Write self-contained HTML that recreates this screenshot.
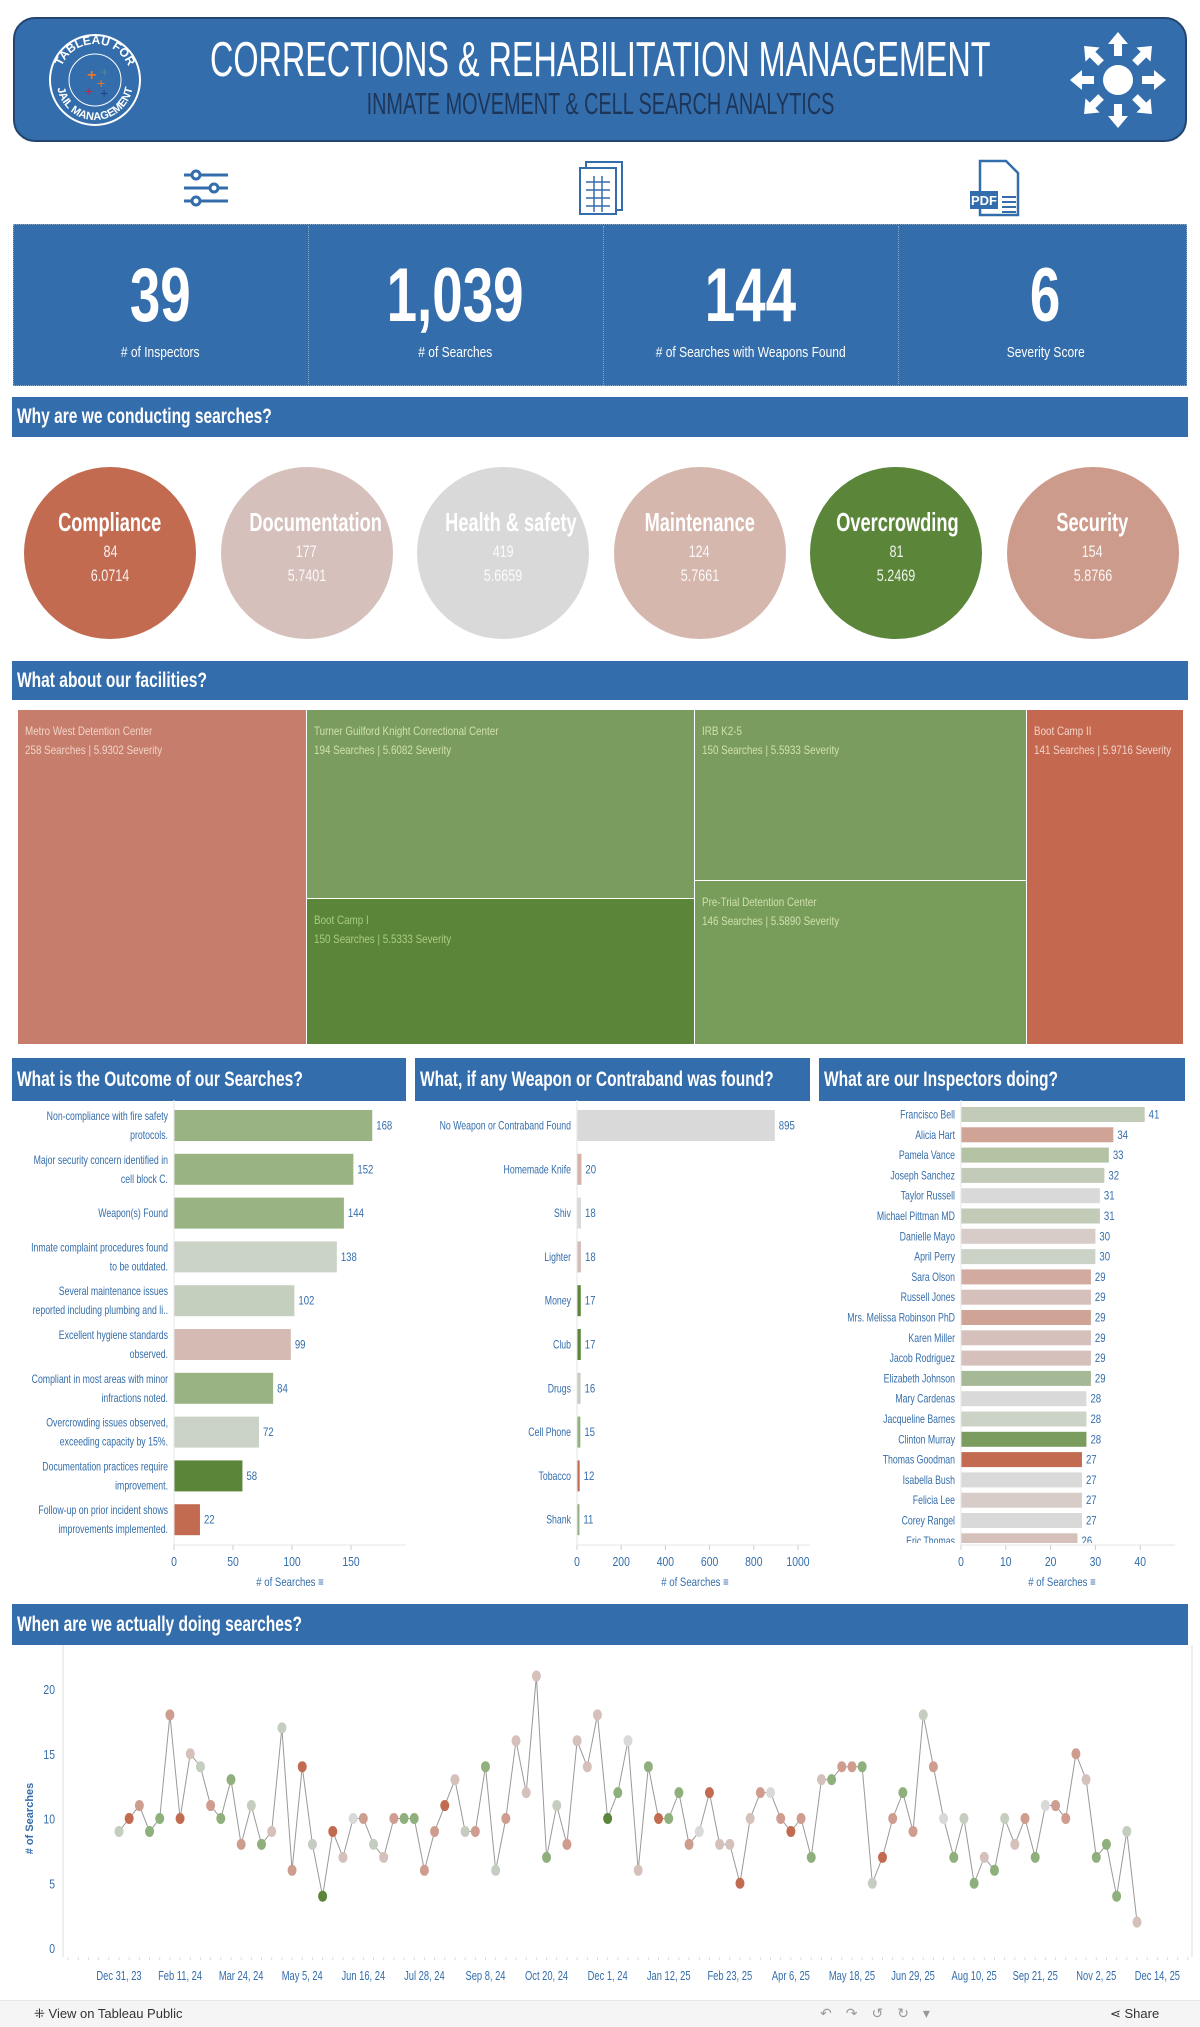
<!DOCTYPE html>
<html><head><meta charset="utf-8">
<style>
*{box-sizing:border-box;margin:0;padding:0}
body{width:1200px;height:2027px;position:relative;background:#fff;font-family:"Liberation Sans Narrow","Liberation Sans",sans-serif;overflow:hidden}
.abs{position:absolute}
.sec{position:absolute;background:#346dab;color:#fff;font-weight:bold;font-size:21px;padding-left:5px;display:flex;align-items:center;white-space:nowrap;overflow:hidden}
.sec span{display:inline-block;transform:scaleX(0.74);transform-origin:left center}
.nar{display:inline-block;transform:scaleX(0.74);white-space:nowrap}
.circ{position:absolute;width:172px;height:172px;border-radius:50%;top:467px;text-align:center;color:#fff;white-space:nowrap}
.circ .t{font-size:26px;font-weight:bold;margin-top:40px}
.circ .v{font-size:17px;margin-top:4px;opacity:.9}
.tm{position:absolute;font-size:12px;padding:12px 0 0 7px;line-height:19px;border:1px solid #fff;white-space:nowrap;overflow:hidden}
.tm span{display:inline-block;transform:scaleX(0.82);transform-origin:left center}
svg text{font-family:"Liberation Sans Narrow","Liberation Sans",sans-serif}
</style></head><body>

<div class="abs" style="left:13px;top:17px;width:1174px;height:125px;background:#346dab;border:2px solid #22446e;border-radius:22px"></div>
<svg class="abs" style="left:45px;top:30px" width="100" height="100">
<circle cx="50" cy="50" r="45" fill="none" stroke="#fff" stroke-width="2"/><circle cx="50" cy="50" r="26" fill="none" stroke="#fff" stroke-width="1"/>
<path id="arcT" d="M14 50 A36 36 0 0 1 86 50" fill="none"/><path id="arcB" d="M12 52 A38 38 0 0 0 88 52" fill="none"/>
<text fill="#fff" font-size="12" font-weight="bold"><textPath href="#arcT" startOffset="50%" text-anchor="middle">TABLEAU FOR</textPath></text>
<text fill="#fff" font-size="11" font-weight="bold"><textPath href="#arcB" startOffset="50%" text-anchor="middle">JAIL MANAGEMENT</textPath></text>
<text x="42" y="50" fill="#e8762d" font-size="16" font-weight="bold">+</text><text x="52" y="58" fill="#e8762d" font-size="14">+</text><text x="40" y="66" fill="#c72035" font-size="14">+</text><text x="55" y="68" fill="#1f457e" font-size="14">+</text><text x="56" y="46" fill="#5b879b" font-size="12">+</text>
</svg>
<div class="abs" style="left:-200px;top:32px;width:1600px;text-align:center;color:#fff;font-size:49px;white-space:nowrap"><span class="nar" style="transform:scaleX(0.66)">CORRECTIONS &amp; REHABILITATION MANAGEMENT</span></div>
<div class="abs" style="left:-200px;top:86px;width:1600px;text-align:center;color:#1d3558;font-size:31px;white-space:nowrap"><span class="nar" style="transform:scaleX(0.64)">INMATE MOVEMENT &amp; CELL SEARCH ANALYTICS</span></div>
<svg class="abs" style="left:1068px;top:30px" width="100" height="100" fill="#fff">
<circle cx="50" cy="50" r="15"/>
<g id="ar"><polygon points="50,2 40,14 46,14 46,26 54,26 54,14 60,14"/></g>
<use href="#ar" transform="rotate(45 50 50)"/><use href="#ar" transform="rotate(90 50 50)"/><use href="#ar" transform="rotate(135 50 50)"/><use href="#ar" transform="rotate(180 50 50)"/><use href="#ar" transform="rotate(225 50 50)"/><use href="#ar" transform="rotate(270 50 50)"/><use href="#ar" transform="rotate(315 50 50)"/>
</svg>

<svg class="abs" style="left:182px;top:168px" width="50" height="40" stroke="#346dab" stroke-width="3" fill="#fff">
<line x1="2" y1="7" x2="46" y2="7"/><line x1="2" y1="20" x2="46" y2="20"/><line x1="2" y1="33" x2="46" y2="33"/>
<circle cx="14" cy="7" r="4"/><circle cx="32" cy="20" r="4"/><circle cx="14" cy="33" r="4"/></svg>
<svg class="abs" style="left:578px;top:160px" width="48" height="56" stroke="#346dab" stroke-width="2" fill="#fff">
<rect x="8" y="2" width="36" height="48"/><rect x="2" y="8" width="36" height="46"/>
<path d="M8 22h24M8 30h24M8 38h24M8 46h24M16 16v36M24 16v36" stroke-width="1.5"/></svg>
<svg class="abs" style="left:968px;top:159px" width="60" height="58">
<path d="M12 2h26l12 12v42h-38z" fill="#fff" stroke="#346dab" stroke-width="2.5"/><rect x="2" y="32" width="28" height="18" fill="#346dab"/>
<text x="16" y="46" fill="#fff" font-size="13" text-anchor="middle" font-weight="bold">PDF</text>
<path d="M34 38h14M34 43h14M34 48h14M34 53h14" stroke="#346dab" stroke-width="2"/></svg>

<div class="abs" style="left:13px;top:224px;width:1174px;height:162px;background:#346dab;border:1px dotted #8aa7cc"></div>
<div class="abs" style="left:308px;top:226px;height:160px;border-left:1px dotted #8aa7cc"></div>
<div class="abs" style="left:603px;top:226px;height:160px;border-left:1px dotted #8aa7cc"></div>
<div class="abs" style="left:898px;top:226px;height:160px;border-left:1px dotted #8aa7cc"></div>
<div id="kpis"></div>

<div class="sec" style="left:12px;top:397px;width:1176px;height:40px"><span>Why are we conducting searches?</span></div>
<div id="circles"></div>

<div class="sec" style="left:12px;top:661px;width:1176px;height:39px"><span>What about our facilities?</span></div>
<div class="tm" style="left:17px;top:709px;width:290px;height:336px;background:#c67d6b;color:#f2d3c8"><span>Metro West Detention Center<br>258 Searches | 5.9302 Severity</span></div>
<div class="tm" style="left:306px;top:709px;width:389px;height:190px;background:#7a9c5f;color:#cfe0ad"><span>Turner Guilford Knight Correctional Center<br>194 Searches | 5.6082 Severity</span></div>
<div class="tm" style="left:306px;top:898px;width:389px;height:147px;background:#5b8539;color:#a9cc7f"><span>Boot Camp I<br>150 Searches | 5.5333 Severity</span></div>
<div class="tm" style="left:694px;top:709px;width:333px;height:172px;background:#7a9c5f;color:#cfe0ad"><span>IRB K2-5<br>150 Searches | 5.5933 Severity</span></div>
<div class="tm" style="left:694px;top:880px;width:333px;height:165px;background:#789c5a;color:#cfe0ad"><span>Pre-Trial Detention Center<br>146 Searches | 5.5890 Severity</span></div>
<div class="tm" style="left:1026px;top:709px;width:158px;height:336px;background:#c4694f;color:#f2d3c8"><span>Boot Camp II<br>141 Searches | 5.9716 Severity</span></div>

<div class="sec" style="left:12px;top:1058px;width:394px;height:43px"><span>What is the Outcome of our Searches?</span></div>
<div class="sec" style="left:415px;top:1058px;width:395px;height:43px"><span>What, if any Weapon or Contraband was found?</span></div>
<div class="sec" style="left:819px;top:1058px;width:366px;height:43px"><span>What are our Inspectors doing?</span></div>
<svg id="bars" class="abs" style="left:0;top:0" width="1200" height="1600"></svg>

<div class="sec" style="left:12px;top:1604px;width:1176px;height:41px"><span>When are we actually doing searches?</span></div>
<svg id="line" class="abs" style="left:0;top:1645px" width="1200" height="355"></svg>

<div class="abs" style="left:0;top:2000px;width:1200px;height:27px;background:#f5f5f5;border-top:1px solid #e6e6e6"></div>
<div class="abs" style="left:34px;top:2006px;font-size:13px;color:#333">⁜ View on Tableau Public</div>
<div class="abs" style="left:820px;top:2005px;font-size:14px;color:#999;letter-spacing:14px">↶↷↺↻▾</div>
<div class="abs" style="left:1110px;top:2006px;font-size:13px;color:#333">⋖ Share</div>

<script>
const NS='http://www.w3.org/2000/svg';
function mk(p,tag,at,txt){const e=document.createElementNS(NS,tag);for(const k in at)e.setAttribute(k,at[k]);if(txt!==undefined)e.textContent=txt;p.appendChild(e);return e;}
function nt(p,x,y,txt,at,sx){at=Object.assign({x:0,y:0,transform:'translate('+x+','+y+') scale('+(sx||0.78)+',1)'},at);return mk(p,'text',at,txt);}

// KPIs
const kpiValues=['39','1,039','144','6'];
const kpiLabels=['# of Inspectors','# of Searches','# of Searches with Weapons Found','Severity Score'];
const kpiWrap=document.getElementById('kpis');
kpiValues.forEach((v,i)=>{
  const d=document.createElement('div');
  
  
  d.style.cssText='position:absolute;left:'+(13+i*295)+'px;top:226px;width:295px;height:160px;color:#fff;text-align:center';
  d.innerHTML='<div style="position:absolute;left:0;right:0;top:30px;font-size:76px;font-weight:bold;line-height:80px"><span class="nar" style="transform:scaleX(0.72)">'+v+'</span></div><div style="position:absolute;left:0;right:0;top:118px;font-size:15px"><span class="nar" style="transform:scaleX(0.8)">'+kpiLabels[i]+'</span></div>';
  kpiWrap.appendChild(d);
});

// Circles
const reasonNames=['Compliance','Documentation','Health & safety','Maintenance','Overcrowding','Security'];
const reasonCounts=[84,177,419,124,81,154];
const reasonSeverity=['6.0714','5.7401','5.6659','5.7661','5.2469','5.8766'];
const reasonColors=['#c26b51','#d6c0bb','#d9d9d9','#d5b7ae','#5b8539','#cd9b8c'];
const cw=document.getElementById('circles');
reasonNames.forEach((n,i)=>{
  const d=document.createElement('div');
  d.className='circ';
  
  
  d.style.left=(24+i*196.5)+'px';d.style.background=reasonColors[i];
  d.innerHTML='<div class="t"><span class="nar" style="transform:scaleX(0.7)">'+n.replace('&','&amp;')+'</span></div><div class="v"><span class="nar">'+reasonCounts[i]+'</span></div><div class="v"><span class="nar">'+reasonSeverity[i]+'</span></div>';
  cw.appendChild(d);
});

// Bar charts
const outcomeLabels=[['Non-compliance with fire safety','protocols.'],['Major security concern identified in','cell block C.'],['Weapon(s) Found'],['Inmate complaint procedures found','to be outdated.'],['Several maintenance issues','reported including plumbing and li..'],['Excellent hygiene standards','observed.'],['Compliant in most areas with minor','infractions noted.'],['Overcrowding issues observed,','exceeding capacity by 15%.'],['Documentation practices require','improvement.'],['Follow-up on prior incident shows','improvements implemented.']];
const outcomeValues=[168,152,144,138,102,99,84,72,58,22];
const outcomeColors=['#9ab383','#9ab383','#9ab383','#cbd3c6','#c5cfbd','#d5bab3','#9ab383','#cbd3c6','#5b8539','#c26b51'];
const outcomeTicks=[0,50,100,150];
const weaponLabels=['No Weapon or Contraband Found','Homemade Knife','Shiv','Lighter','Money','Club','Drugs','Cell Phone','Tobacco','Shank'];
const weaponValues=[895,20,18,18,17,17,16,15,12,11];
const weaponColors=['#d9d9d9','#d5b3ab','#d9d9d9','#d6beb8','#5b8539','#5b8539','#c4cdbf','#8fb07d','#c26b51','#8fb07d'];
const weaponTicks=[0,200,400,600,800,1000];
const inspectorNames=['Francisco Bell','Alicia Hart','Pamela Vance','Joseph Sanchez','Taylor Russell','Michael Pittman MD','Danielle Mayo','April Perry','Sara Olson','Russell Jones','Mrs. Melissa Robinson PhD','Karen Miller','Jacob Rodriguez','Elizabeth Johnson','Mary Cardenas','Jacqueline Barnes','Clinton Murray','Thomas Goodman','Isabella Bush','Felicia Lee','Corey Rangel','Eric Thomas'];
const inspectorValues=[41,34,33,32,31,31,30,30,29,29,29,29,29,29,28,28,28,27,27,27,27,26];
const inspectorColors=['#c2cab8','#cfa497','#b3c2a3','#c2cab8','#d9d9d9','#c2cab8','#d8ccc9','#cbd3c6','#d3aa9f','#d6c0bb','#cfa497','#d6c0bb','#d6c0bb','#a6b996','#d9d9d9','#cbd3c6','#7a9c5f','#c26b51','#d9d9d9','#d8ccc9','#d9d9d9','#d6c0bb'];
const inspectorTicks=[0,10,20,30,40];

const bs=document.getElementById('bars');
const cp=mk(mk(bs,'defs',{}),'clipPath',{id:'insClip'});
mk(cp,'rect',{x:800,y:1100,width:400,height:443});

function barChart(o){
  const g=mk(bs,'g',o.clip?{'clip-path':'url(#insClip)'}:{});
  
  
  const xs=v=>o.x0+v*o.k;
  mk(bs,'line',{x1:o.x0,y1:1100,x2:o.x0,y2:1545,stroke:'#e6e6e6'});
  mk(bs,'line',{x1:o.x0,y1:1545,x2:o.xEnd,y2:1545,stroke:'#e6e6e6'});
  o.ticks.forEach(t=>{
    mk(bs,'line',{x1:xs(t),y1:1545,x2:xs(t),y2:1550,stroke:'#ccc'});
    const tl=nt(bs,xs(t),1566,t,{'font-size':13,fill:'#346dab','text-anchor':'middle'},0.8);
    
    
  });
  const at=nt(bs,o.titleX,1586,'# of Searches  ≡',{'font-size':12,fill:'#346dab','text-anchor':'middle'},0.8);
  
  
  o.values.forEach((v,i)=>{
    const y=o.top+i*o.pitch;
    const r=mk(g,'rect',{x:o.x0,y:y,width:Math.max(2,v*o.k),height:o.h,fill:o.colors[i]});
    
    
    nt(g,xs(v)+4,y+o.h/2+4,v,{'font-size':12,fill:'#346dab'},0.8);
    const lab=o.labels[i];const lines=Array.isArray(lab)?lab:[lab];
    lines.forEach((ln,j)=>{
      const ly=y+o.h/2+4+(j-(lines.length-1)/2)*(o.lh||19);
      const tx=nt(g,o.x0-6,ly,ln,{'font-size':o.fs||11.5,fill:'#346dab','text-anchor':'end'},0.76);
      
      
    });
  });
}
barChart({name:'outcome-chart',x0:174,k:1.18,xEnd:406,values:outcomeValues,colors:outcomeColors,labels:outcomeLabels,ticks:outcomeTicks,top:1110,pitch:43.8,h:31,titleX:290,fs:11.5});
barChart({name:'weapon-chart',x0:577,k:0.221,xEnd:810,values:weaponValues,colors:weaponColors,labels:weaponLabels,ticks:weaponTicks,top:1110,pitch:43.8,h:31,titleX:695,fs:11.5});
barChart({name:'inspector-chart',x0:961,k:4.48,xEnd:1175,values:inspectorValues,colors:inspectorColors,labels:inspectorNames,ticks:inspectorTicks,top:1107,pitch:20.3,h:15,titleX:1062,fs:11.5,clip:true});

// Timeline
const timeValues=[9,10,11,9,10,18,10,15,14,11,10,13,8,11,8,9,17,6,14,8,4,9,7,10,10,8,7,10,10,10,6,9,11,13,9,9,14,6,10,16,12,21,7,11,8,16,14,18,10,12,16,6,14,10,10,12,8,9,12,8,8,5,10,12,12,10,9,10,7,13,13,14,14,14,5,7,10,12,9,18,14,10,7,10,5,7,6,10,8,10,7,11,11,10,15,13,7,8,4,9,2];
const timeColorIdx=[4,0,1,5,5,1,0,2,4,1,5,5,1,4,5,2,4,1,0,4,6,0,2,3,1,4,2,1,5,5,1,1,0,2,4,1,5,4,1,2,2,2,5,4,1,2,2,2,6,5,3,2,5,0,5,5,1,3,0,2,2,0,2,1,3,1,0,1,5,2,5,1,1,5,4,0,1,5,1,4,1,3,5,4,5,2,5,4,2,1,5,3,1,1,1,2,5,5,5,4,2];
const palette=['#c26b51','#cf9d8f','#d6c0bb','#d9d9d9','#c4cdbf','#8fb07d','#5b8539'];
const dateLabels=['Dec 31, 23','Feb 11, 24','Mar 24, 24','May 5, 24','Jun 16, 24','Jul 28, 24','Sep 8, 24','Oct 20, 24','Dec 1, 24','Jan 12, 25','Feb 23, 25','Apr 6, 25','May 18, 25','Jun 29, 25','Aug 10, 25','Sep 21, 25','Nov 2, 25','Dec 14, 25'];
const yTicks=[0,5,10,15,20];
const ls=document.getElementById('line');
const OY=1645;
const tx=i=>119+i*10.18;
const ty=v=>1948-v*12.95-OY;
mk(ls,'line',{x1:63,y1:0,x2:63,y2:312,stroke:'#ddd'});
mk(ls,'line',{x1:1192,y1:0,x2:1192,y2:312,stroke:'#ddd'});
for(let w=-5;w<106;w++){mk(ls,'line',{x1:tx(w),y1:312,x2:tx(w),y2:315,stroke:'#ddd'});}
yTicks.forEach(t=>{
  const e=nt(ls,55,ty(t)+5,t,{'font-size':13,fill:'#346dab','text-anchor':'end'},0.8);
  
  
});
const yt=mk(ls,'text',{x:0,y:0,'font-size':11,fill:'#346dab','text-anchor':'middle','font-weight':'bold',transform:'translate(33,'+ty(10)+') rotate(-90)'},'# of Searches');


dateLabels.forEach((d,k)=>{
  const e=nt(ls,tx(k*6),335,d,{'font-size':13,fill:'#346dab','text-anchor':'middle'},0.72);
  
  
});
const pts=timeValues.map((v,i)=>tx(i)+','+ty(v)).join(' ');
const pl=mk(ls,'polyline',{points:pts,fill:'none',stroke:'#999','stroke-width':1});


timeValues.forEach((v,i)=>{
  const c=mk(ls,'ellipse',{cx:tx(i),cy:ty(v),rx:4.5,ry:5.5,fill:palette[timeColorIdx[i]]});
  
  
});
</script>
</body></html>
